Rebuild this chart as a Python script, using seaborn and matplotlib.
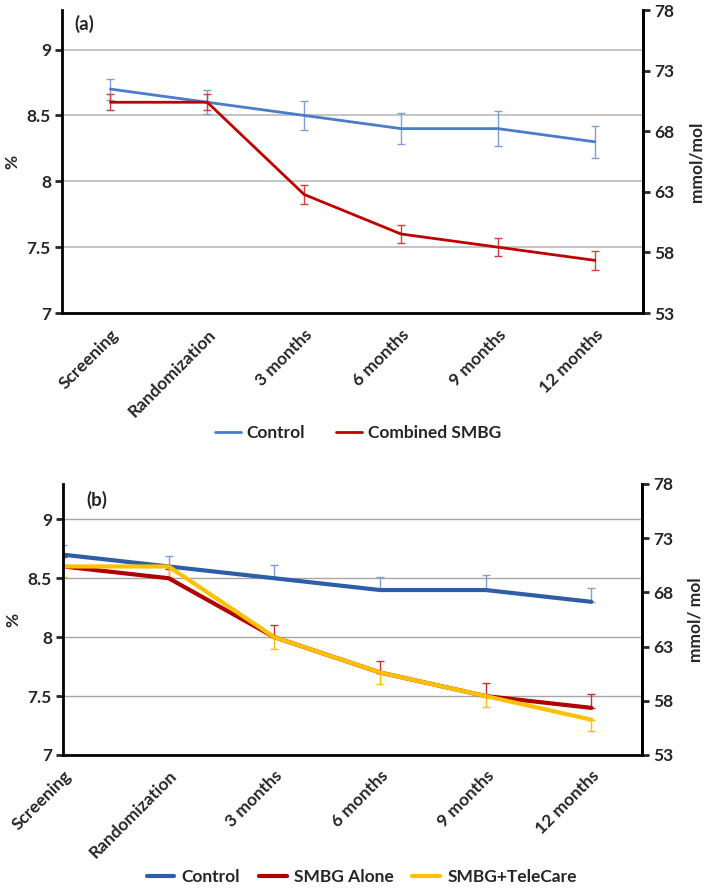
import numpy as np
import pandas as pd
import seaborn as sns
import matplotlib.pyplot as plt

visits = ["Screening", "Randomization", "3 months", "6 months", "9 months", "12 months"]

# panel (a)
ctrl_a = [8.7, 8.6, 8.5, 8.4, 8.4, 8.3]
ctrl_a_err = [0.08, 0.09, 0.11, 0.12, 0.13, 0.12]
smbg_a = [8.6, 8.6, 7.9, 7.6, 7.5, 7.4]
smbg_a_err = [0.06, 0.06, 0.07, 0.07, 0.07, 0.07]

# panel (b)
ctrl_b = [8.7, 8.6, 8.5, 8.4, 8.4, 8.3]
ctrl_b_err = [0.08, 0.085, 0.11, 0.11, 0.13, 0.12]
alone_b = [8.6, 8.5, 8.0, 7.7, 7.5, 7.4]
alone_b_err = [0.08, 0.08, 0.10, 0.10, 0.11, 0.12]
tele_b = [8.6, 8.6, 8.0, 7.7, 7.5, 7.3]
tele_b_err = [0.09, 0.09, 0.10, 0.10, 0.09, 0.10]

left_ticks = [7, 7.5, 8, 8.5, 9]
right_ticks = [53, 58, 63, 68, 73, 78]

sns.set_style("white")
plt.rcParams['font.family'] = ['Lato', 'DejaVu Sans']
plt.rcParams['font.weight'] = 'bold'

fig = plt.figure(figsize=(7.09, 8.90), dpi=100)
ax1 = fig.add_axes([0.0875, 0.6483, 0.8195, 0.3404])
ax2 = fig.add_axes([0.0889, 0.1517, 0.8166, 0.3045])

FS = 12.5


def style_axes(ax, label_right):
    ax.set_ylim(7, 9.3)
    ax.set_yticks(left_ticks)
    ax.set_yticklabels(["7", "7.5", "8", "8.5", "9"], fontsize=FS, fontweight='bold')
    ax.grid(axis='y', color='#bfbfbf', linewidth=1.3)
    ax.set_axisbelow(True)
    ax.spines['top'].set_visible(False)
    for s in ['left', 'bottom', 'right']:
        ax.spines[s].set_linewidth(2)
        ax.spines[s].set_color('black')
    ax.tick_params(axis='y', direction='out', length=5, width=2, left=True, pad=3)
    ax.set_ylabel("%", fontsize=FS, fontweight='bold')
    ax.yaxis.set_label_coords(-0.072, 0.5)
    ax.set_xlabel("")
    axr = ax.twinx()
    axr.set_ylim(53, 78)
    axr.set_yticks(right_ticks)
    axr.set_yticklabels([str(t) for t in right_ticks], fontsize=FS, fontweight='bold')
    axr.tick_params(axis='y', direction='out', length=5, width=2, right=True, pad=3)
    for s in ['top', 'left', 'bottom']:
        axr.spines[s].set_visible(False)
    axr.spines['right'].set_linewidth(2)
    axr.spines['right'].set_color('black')
    axr.set_ylabel(label_right, fontsize=FS, fontweight='bold')
    axr.yaxis.set_label_coords(1.078, 0.5)
    return axr


# ---------- panel (a) ----------
x = np.arange(len(visits))
df_a = pd.DataFrame({"x": np.tile(x, 2), "v": ctrl_a + smbg_a,
                     "grp": ["Control"] * 6 + ["Combined SMBG"] * 6})
ax1.errorbar(x, ctrl_a, yerr=ctrl_a_err, fmt='none', ecolor='#7f9fd6', elinewidth=1, capsize=3, capthick=1)
ax1.errorbar(x, smbg_a, yerr=smbg_a_err, fmt='none', ecolor='#d04040', elinewidth=1, capsize=3, capthick=1)
sns.lineplot(data=df_a, x="x", y="v", hue="grp", palette={"Control": "#4a7cc9", "Combined SMBG": "#c00000"},
             estimator=None, linewidth=2, ax=ax1, legend=False)
ax1.set_xlim(-0.5, 5.5)
ax1.set_xticks(x)
ax1.set_xticklabels(visits, rotation=45, ha='right', rotation_mode='anchor', fontsize=FS, fontweight='bold')
ax1.tick_params(axis='x', which='major', length=0, pad=10)
ax1.set_xticks(np.arange(-0.5, 6, 1), minor=True)
ax1.tick_params(axis='x', which='minor', length=5, width=2, direction='out')
style_axes(ax1, "mmol/mol")
ax1.text(0.022, 0.984, "(a)", transform=ax1.transAxes, fontsize=FS + 1, fontweight='bold', va='top')

h_a = [plt.Line2D([], [], color="#4a7cc9", lw=2), plt.Line2D([], [], color="#c00000", lw=2)]
fig.legend(h_a, ["Control", "Combined SMBG"], loc='center', bbox_to_anchor=(0.505, 1 - 433 / 890), ncol=2,
           frameon=False, handlelength=1.5, handletextpad=0.3, columnspacing=1.8,
           prop={'weight': 'bold', 'size': FS})

# ---------- panel (b) ----------
df_b = pd.DataFrame({"x": np.tile(x, 3), "v": ctrl_b + alone_b + tele_b,
                     "grp": ["Control"] * 6 + ["SMBG Alone"] * 6 + ["SMBG+TeleCare"] * 6})
ax2.errorbar(x, ctrl_b, yerr=[np.zeros(6), ctrl_b_err], fmt='none', ecolor='#7f9fd6', elinewidth=1, capsize=3, capthick=1)
ax2.errorbar(x, alone_b, yerr=[np.zeros(6), alone_b_err], fmt='none', ecolor='#c83030', elinewidth=1, capsize=3, capthick=1)
ax2.errorbar(x, tele_b, yerr=[tele_b_err, np.zeros(6)], fmt='none', ecolor='#ffc000', elinewidth=1, capsize=3, capthick=1)
sns.lineplot(data=df_b, x="x", y="v", hue="grp",
             palette={"Control": "#2f5ea8", "SMBG Alone": "#b00000", "SMBG+TeleCare": "#ffc000"},
             estimator=None, linewidth=3, ax=ax2, legend=False)
ax2.set_xlim(0, 5.48)
ax2.set_xticks(x)
ax2.set_xticklabels(visits, rotation=45, ha='right', rotation_mode='anchor', fontsize=FS, fontweight='bold')
ax2.tick_params(axis='x', which='major', length=5, width=2, direction='out', pad=4)
style_axes(ax2, "mmol/ mol")
ax2.grid(axis='y', color='#a6a6a6', linewidth=1)
ax2.text(0.04, 0.975, "(b)", transform=ax2.transAxes, fontsize=FS + 1, fontweight='bold', va='top')

h_b = [plt.Line2D([], [], color="#2f5ea8", lw=3), plt.Line2D([], [], color="#b00000", lw=3),
       plt.Line2D([], [], color="#ffc000", lw=3)]
fig.legend(h_b, ["Control", "SMBG Alone", "SMBG+TeleCare"], loc='center', bbox_to_anchor=(0.51, 1 - 877 / 890), ncol=3,
           frameon=False, handlelength=1.6, handletextpad=0.4, columnspacing=1.1,
           prop={'weight': 'bold', 'size': FS})

fig.savefig("out.png", dpi=100)
